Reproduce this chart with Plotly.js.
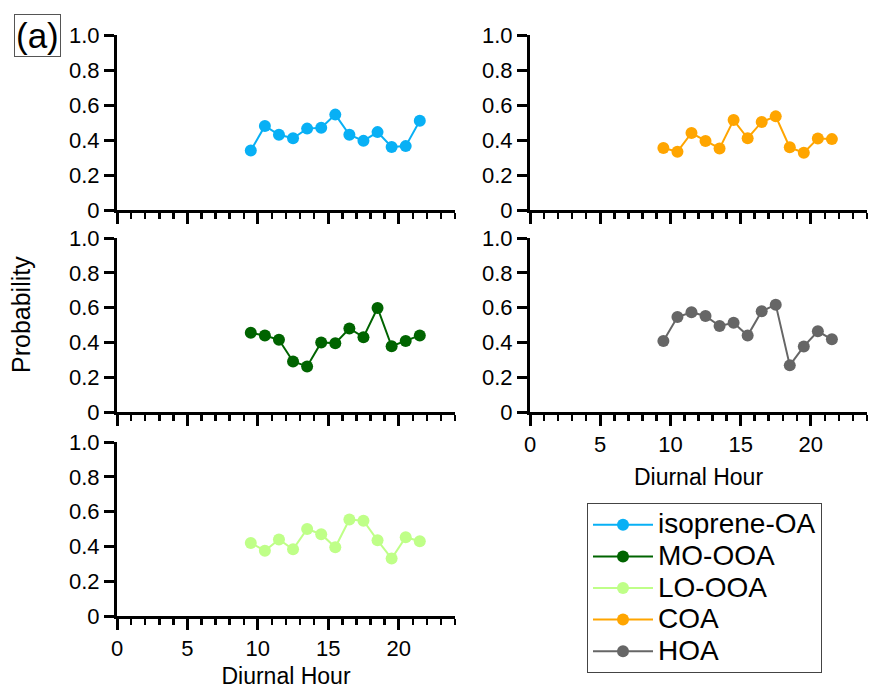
<!DOCTYPE html>
<html>
<head>
<meta charset="utf-8">
<script src="https://cdn.plot.ly/plotly-3.0.1.min.js"></script>
<style>
  html, body { margin: 0; padding: 0; background: #fff; }
  #chart { width: 869px; height: 689px; }
</style>
</head>
<body>
<div id="chart"></div>
<script>
// Diurnal hour bins (centre of each hour)
const hours = [9.5, 10.5, 11.5, 12.5, 13.5, 14.5, 15.5, 16.5, 17.5, 18.5, 19.5, 20.5, 21.5];

// Probability per factor
const isopreneOA = [0.34, 0.48, 0.43, 0.41, 0.465, 0.47, 0.545, 0.43, 0.395, 0.445, 0.36, 0.365, 0.51];
const moOOA      = [0.455, 0.44, 0.415, 0.29, 0.262, 0.40, 0.395, 0.48, 0.43, 0.598, 0.378, 0.408, 0.44];
const loOOA      = [0.42, 0.375, 0.44, 0.383, 0.50, 0.47, 0.395, 0.555, 0.548, 0.435, 0.33, 0.453, 0.43];
const coa        = [0.354, 0.333, 0.44, 0.394, 0.352, 0.514, 0.41, 0.503, 0.535, 0.358, 0.327, 0.409, 0.405];
const hoa        = [0.408, 0.546, 0.573, 0.552, 0.494, 0.513, 0.439, 0.579, 0.617, 0.268, 0.377, 0.464, 0.418];

const seriesNames  = ['isoprene-OA', 'MO-OOA', 'LO-OOA', 'COA', 'HOA'];
const seriesColors = ['#08B0F5', '#006400', '#BFFF88', '#FFA500', '#666666'];

// Axis ticks
const yTickVals = [0, 0.2, 0.4, 0.6, 0.8, 1.0];
const yTickText = ['0', '0.2', '0.4', '0.6', '0.8', '1.0'];
const xTickVals = [0, 5, 10, 15, 20];
const xTickText = ['0', '5', '10', '15', '20'];

const FONT = 'Arial, "Liberation Sans", sans-serif';
const W = 869, H = 689;

// panel placement in pixels: [left, right], [top, bottom]
const colL = [117, 455], colR = [530, 867];
const rowT = [35, 210], rowM = [238, 412], rowB = [442, 616];

function xd(c) { return [c[0] / W, c[1] / W]; }
function yd(r) { return [1 - r[1] / H, 1 - r[0] / H]; }

function xAxis(col, row, labels) {
  return {
    domain: xd(col), range: [0, 24], fixedrange: true,
    showgrid: false, zeroline: false, showline: true, linecolor: '#000', linewidth: 3,
    ticks: 'outside', ticklen: 11, tickwidth: 3, tickcolor: '#000',
    tickvals: xTickVals, ticktext: xTickText, showticklabels: labels,
    tickfont: { family: FONT, size: 22, color: '#000' },
    minor: { dtick: 1, ticks: 'outside', ticklen: 6, tickwidth: 2.5, tickcolor: '#000', showgrid: false },
    title: labels ? { text: 'Diurnal Hour', font: { family: FONT, size: 23, color: '#000' }, standoff: 13 } : { text: '' }
  };
}

function yAxis(col, row) {
  return {
    domain: yd(row), range: [0, 1], fixedrange: true,
    showgrid: false, zeroline: false, showline: true, linecolor: '#000', linewidth: 3,
    ticks: 'outside', ticklen: 10, tickwidth: 3, tickcolor: '#000',
    tickvals: yTickVals, ticktext: yTickText,
    tickfont: { family: FONT, size: 22, color: '#000' }
  };
}

// one panel per factor
const panels = [
  { key: '',  data: isopreneOA, idx: 0, col: colL, row: rowT, labels: false },
  { key: '2', data: moOOA,      idx: 1, col: colL, row: rowM, labels: false },
  { key: '3', data: loOOA,      idx: 2, col: colL, row: rowB, labels: true },
  { key: '4', data: coa,        idx: 3, col: colR, row: rowT, labels: false },
  { key: '5', data: hoa,        idx: 4, col: colR, row: rowM, labels: true }
];

const traces = [];
const layout = {
  width: W, height: H,
  margin: { l: 0, r: 0, t: 0, b: 0 },
  paper_bgcolor: '#fff', plot_bgcolor: '#fff',
  font: { family: FONT, color: '#000' },
  showlegend: true,
  legend: {
    x: 587 / W, y: 1 - 503 / H, xanchor: 'left', yanchor: 'top',
    bgcolor: '#fff', bordercolor: '#444', borderwidth: 1,
    font: { family: FONT, size: 22, color: '#000' },
    itemwidth: 60, tracegroupgap: 0
  },
  annotations: [
    {
      text: 'Probability', textangle: -90, xref: 'paper', yref: 'paper',
      x: 21 / W, y: 1 - 315 / H, xanchor: 'center', yanchor: 'middle', showarrow: false,
      font: { family: FONT, size: 25, color: '#000' }
    },
    {
      text: '(a)', xref: 'paper', yref: 'paper',
      x: 37 / W, y: 1 - 35 / H, xanchor: 'center', yanchor: 'middle', showarrow: false,
      font: { family: FONT, size: 35, color: '#000' },
      bordercolor: '#555', borderwidth: 1, borderpad: 1, bgcolor: '#fff'
    }
  ]
};

panels.forEach(p => {
  const xa = 'x' + p.key, ya = 'y' + p.key;
  traces.push({
    type: 'scatter', mode: 'lines+markers',
    x: hours, y: p.data, xaxis: xa, yaxis: ya,
    // legend entries use a larger face on the standard row spacing
    name: '<span style="font-size:28px">' + seriesNames[p.idx] + '</span>',
    line: { color: seriesColors[p.idx], width: 2 },
    marker: { color: seriesColors[p.idx], size: 12 },
    hoverinfo: 'skip'
  });
  const xax = xAxis(p.col, p.row, p.labels);
  xax.anchor = ya;
  const yax = yAxis(p.col, p.row);
  yax.anchor = xa;
  layout['xaxis' + p.key] = xax;
  layout['yaxis' + p.key] = yax;
});

Plotly.newPlot('chart', traces, layout, { displayModeBar: false, staticPlot: true });
</script>
</body>
</html>
